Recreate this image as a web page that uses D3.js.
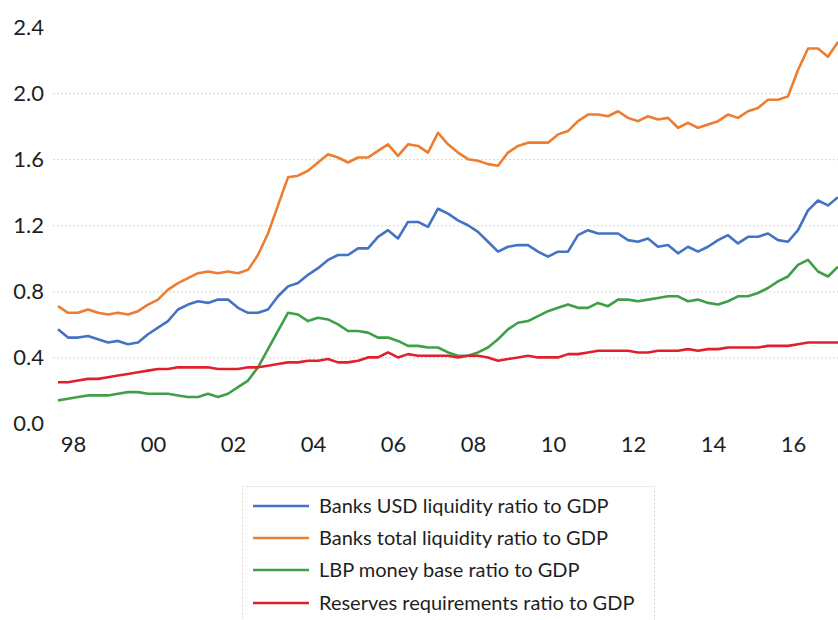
<!DOCTYPE html>
<html>
<head>
<meta charset="utf-8">
<script src="https://cdn.jsdelivr.net/npm/d3@7"></script>
<style>
  html, body { margin: 0; padding: 0; background: #fff; }
  #chart { width: 838px; height: 620px; }
</style>
</head>
<body>
<div id="chart"></div>
<script>
// Quarterly, 1998Q1 .. 2017Q3
const startYear = 1998;
const yTicks = [0.0, 0.4, 0.8, 1.2, 1.6, 2.0, 2.4];
const xLabelYears = [1998, 2000, 2002, 2004, 2006, 2008, 2010, 2012, 2014, 2016];

const seriesNames = [
    'Banks USD liquidity ratio to GDP',
    'Banks total liquidity ratio to GDP',
    'LBP money base ratio to GDP',
    'Reserves requirements ratio to GDP'
];
const seriesColors = ['#4472c4', '#ed7d31', '#3f9f47', '#e0202d'];

const usdLiquidity = [
    0.57, 0.52, 0.52, 0.53, 0.51, 0.49, 0.50, 0.48, 0.49, 0.54, 0.58, 0.62, 0.69, 0.72, 0.74, 0.73,
    0.75, 0.75, 0.70, 0.67, 0.67, 0.69, 0.77, 0.83, 0.85, 0.90, 0.94, 0.99, 1.02, 1.02, 1.06, 1.06,
    1.13, 1.17, 1.12, 1.22, 1.22, 1.19, 1.30, 1.27, 1.23, 1.20, 1.16, 1.10, 1.04, 1.07, 1.08, 1.08,
    1.04, 1.01, 1.04, 1.04, 1.14, 1.17, 1.15, 1.15, 1.15, 1.11, 1.10, 1.12, 1.07, 1.08, 1.03, 1.07,
    1.04, 1.07, 1.11, 1.14, 1.09, 1.13, 1.13, 1.15, 1.11, 1.10, 1.17, 1.29, 1.35, 1.32, 1.37
];
const totalLiquidity = [
    0.71, 0.67, 0.67, 0.69, 0.67, 0.66, 0.67, 0.66, 0.68, 0.72, 0.75, 0.81, 0.85, 0.88, 0.91, 0.92,
    0.91, 0.92, 0.91, 0.93, 1.02, 1.15, 1.32, 1.49, 1.50, 1.53, 1.58, 1.63, 1.61, 1.58, 1.61, 1.61,
    1.65, 1.69, 1.62, 1.69, 1.68, 1.64, 1.76, 1.69, 1.64, 1.60, 1.59, 1.57, 1.56, 1.64, 1.68, 1.70,
    1.70, 1.70, 1.75, 1.77, 1.83, 1.87, 1.87, 1.86, 1.89, 1.85, 1.83, 1.86, 1.84, 1.85, 1.79, 1.82,
    1.79, 1.81, 1.83, 1.87, 1.85, 1.89, 1.91, 1.96, 1.96, 1.98, 2.14, 2.27, 2.27, 2.22, 2.31
];
const moneyBase = [
    0.14, 0.15, 0.16, 0.17, 0.17, 0.17, 0.18, 0.19, 0.19, 0.18, 0.18, 0.18, 0.17, 0.16, 0.16, 0.18,
    0.16, 0.18, 0.22, 0.26, 0.34, 0.45, 0.56, 0.67, 0.66, 0.62, 0.64, 0.63, 0.60, 0.56, 0.56, 0.55,
    0.52, 0.52, 0.50, 0.47, 0.47, 0.46, 0.46, 0.43, 0.41, 0.41, 0.43, 0.46, 0.51, 0.57, 0.61, 0.62,
    0.65, 0.68, 0.70, 0.72, 0.70, 0.70, 0.73, 0.71, 0.75, 0.75, 0.74, 0.75, 0.76, 0.77, 0.77, 0.74,
    0.75, 0.73, 0.72, 0.74, 0.77, 0.77, 0.79, 0.82, 0.86, 0.89, 0.96, 0.99, 0.92, 0.89, 0.95
];
const reserves = [
    0.25, 0.25, 0.26, 0.27, 0.27, 0.28, 0.29, 0.30, 0.31, 0.32, 0.33, 0.33, 0.34, 0.34, 0.34, 0.34,
    0.33, 0.33, 0.33, 0.34, 0.34, 0.35, 0.36, 0.37, 0.37, 0.38, 0.38, 0.39, 0.37, 0.37, 0.38, 0.40,
    0.40, 0.43, 0.40, 0.42, 0.41, 0.41, 0.41, 0.41, 0.40, 0.41, 0.41, 0.40, 0.38, 0.39, 0.40, 0.41,
    0.40, 0.40, 0.40, 0.42, 0.42, 0.43, 0.44, 0.44, 0.44, 0.44, 0.43, 0.43, 0.44, 0.44, 0.44, 0.45,
    0.44, 0.45, 0.45, 0.46, 0.46, 0.46, 0.46, 0.47, 0.47, 0.47, 0.48, 0.49, 0.49, 0.49, 0.49
];

const allSeries = [usdLiquidity, totalLiquidity, moneyBase, reserves];

const W = 838, H = 620;
const font = 'Lato, "Open Sans", sans-serif';

const svg = d3.select('#chart').append('svg')
    .attr('width', W)
    .attr('height', H);

const x = d3.scaleLinear().domain([0, usdLiquidity.length - 1]).range([58, 838]);
const y = d3.scaleLinear().domain([0, 2.4]).range([423.5, 27]);

// Gridlines (not at 0.0 / 2.4)
svg.append('g')
    .attr('transform', 'translate(53,0)')
    .call(d3.axisRight(y).tickValues(yTicks.filter(v => v > 0 && v < 2.4)).tickSize(W - 53).tickFormat(''))
    .call(g => g.select('.domain').remove())
    .selectAll('line')
    .attr('stroke', '#d6d6d6')
    .attr('stroke-width', 1)
    .attr('stroke-dasharray', '2,2');

// Y axis labels
svg.append('g')
    .attr('transform', 'translate(52,0)')
    .call(d3.axisLeft(y).tickValues(yTicks).tickSize(0).tickPadding(8).tickFormat(d3.format('.1f')))
    .call(g => g.select('.domain').remove())
    .selectAll('text')
    .style('font-family', font)
    .style('font-size', '22px')
    .attr('fill', '#1f1f1f');

// X axis labels, centred on each year
const xTickIdx = xLabelYears.map(yr => (yr - startYear) * 4 + 1.5);
svg.append('g')
    .attr('transform', `translate(0,${y(0)})`)
    .call(d3.axisBottom(x).tickValues(xTickIdx).tickSize(0).tickPadding(13)
        .tickFormat((d, i) => String(xLabelYears[i]).slice(2)))
    .call(g => g.select('.domain').remove())
    .selectAll('text')
    .style('font-family', font)
    .style('font-size', '22px')
    .attr('fill', '#1f1f1f');

// Lines
const line = d3.line().x((d, i) => x(i)).y(d => y(d));
const plot = svg.append('g');
allSeries.forEach((s, k) => {
    plot.append('path')
        .datum(s)
        .attr('fill', 'none')
        .attr('stroke', seriesColors[k])
        .attr('stroke-width', 2.6)
        .attr('stroke-linejoin', 'round')
        .attr('d', line);
});

// Legend
const legend = svg.append('g');
legend.append('rect')
    .attr('x', 242.5).attr('y', 486.5)
    .attr('width', 412).attr('height', 150)
    .attr('fill', '#fff')
    .attr('stroke', '#d9d9d9')
    .attr('stroke-dasharray', '2,2');

const rowY = [506, 538, 570, 603];
seriesNames.forEach((name, k) => {
    legend.append('line')
        .attr('x1', 253).attr('x2', 309)
        .attr('y1', rowY[k]).attr('y2', rowY[k])
        .attr('stroke', seriesColors[k])
        .attr('stroke-width', 2.6);
    legend.append('text')
        .attr('x', 319).attr('y', rowY[k])
        .attr('dy', '0.35em')
        .style('font-family', font)
        .style('font-size', '20px')
        .attr('fill', '#1f1f1f')
        .text(name);
});
</script>
</body>
</html>
